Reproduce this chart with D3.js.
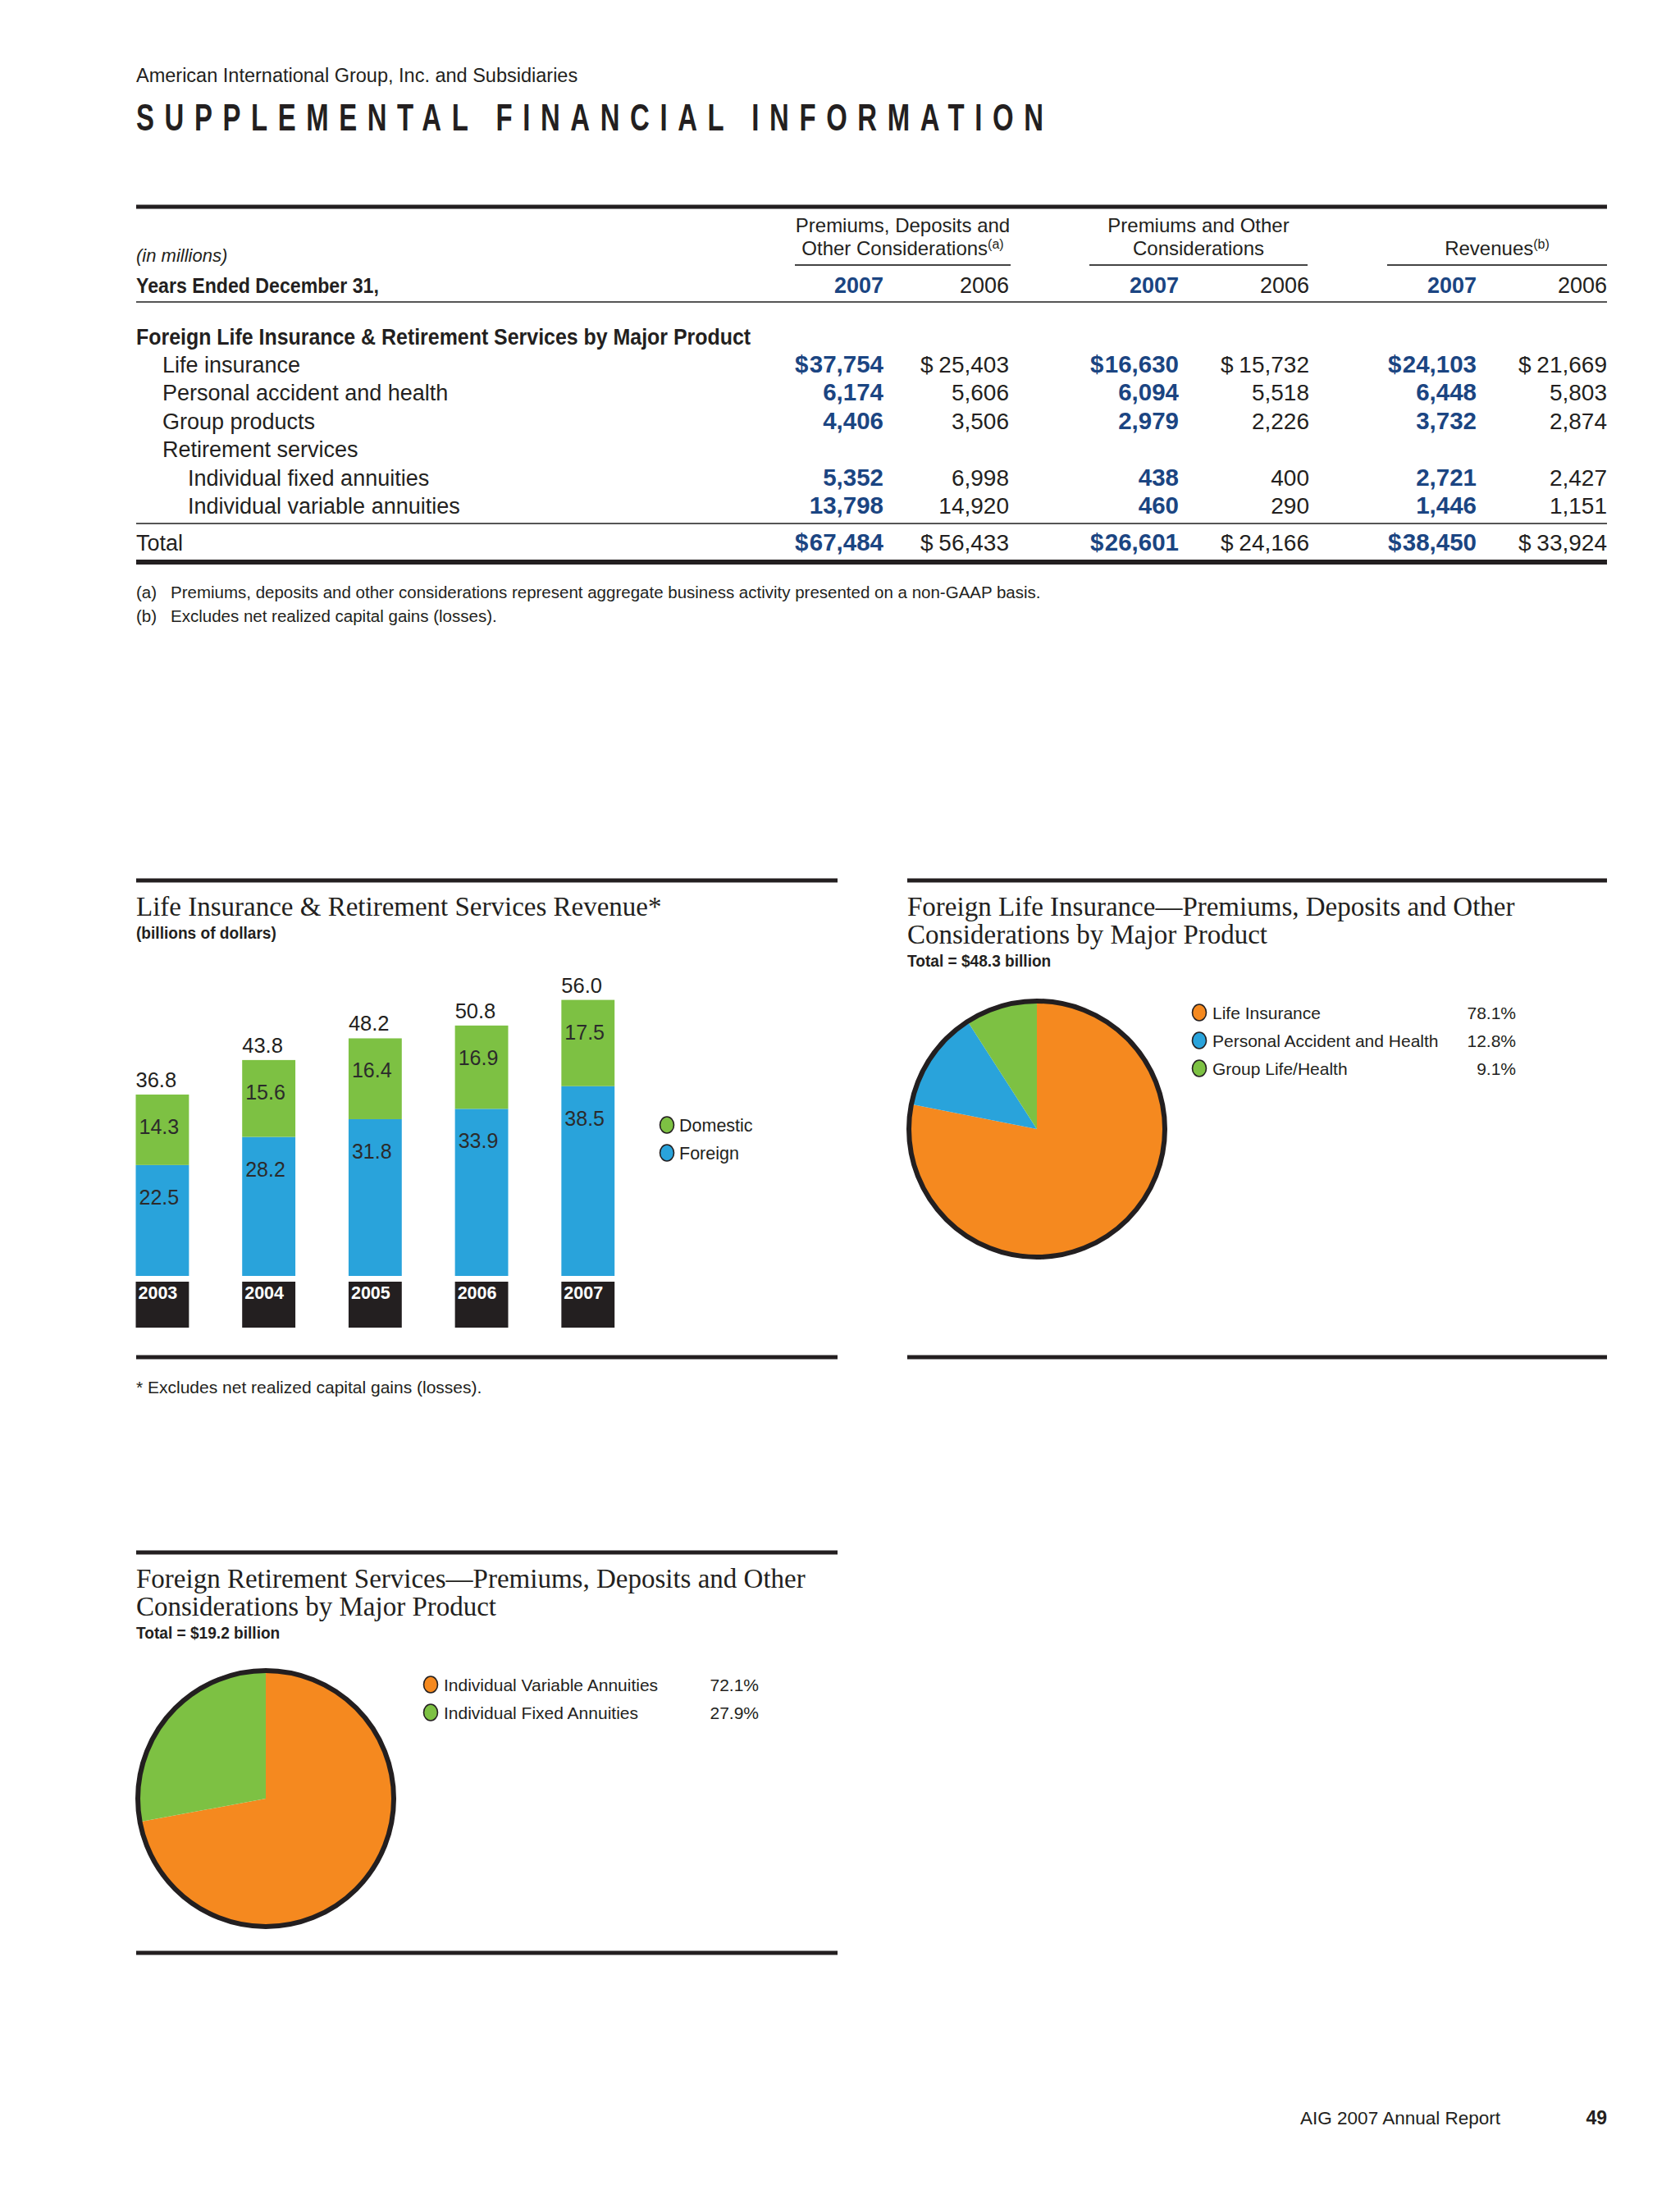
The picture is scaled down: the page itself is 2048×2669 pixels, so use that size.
<!DOCTYPE html>
<html>
<head>
<meta charset="utf-8">
<script src="https://cdn.jsdelivr.net/npm/d3@7"></script>
<style>
  html, body { margin: 0; padding: 0; background: #fff; }
  svg { display: block; }
  .sans { font-family: "Liberation Sans", Arial, sans-serif; }
  .serif { font-family: "Liberation Serif", "DejaVu Serif", serif; }
</style>
</head>
<body>
<svg id="page" width="2048" height="2669"></svg>
<script>

// ---------- table data
const groupHeaders = [["Premiums, Deposits and", "Other Considerations"], ["Premiums and Other", "Considerations"], ["", "Revenues"]];
const groupNotes = ["(a)", "", "(b)"];
const columnYears = ["2007", "2006", "2007", "2006", "2007", "2006"];
const sectionTitle = "Foreign Life Insurance & Retirement Services by Major Product";
const rowLabels = ["Life insurance", "Personal accident and health", "Group products", "Retirement services", "Individual fixed annuities", "Individual variable annuities"];
const rowLevels = [1, 1, 1, 1, 2, 2];
const pdoc2007 = [37754, 6174, 4406, null, 5352, 13798];
const pdoc2006 = [25403, 5606, 3506, null, 6998, 14920];
const poc2007 = [16630, 6094, 2979, null, 438, 460];
const poc2006 = [15732, 5518, 2226, null, 400, 290];
const rev2007 = [24103, 6448, 3732, null, 2721, 1446];
const rev2006 = [21669, 5803, 2874, null, 2427, 1151];
const columnTotals = [67484, 56433, 26601, 24166, 38450, 33924];
const footnotes = [["(a)", "Premiums, deposits and other considerations represent aggregate business activity presented on a non-GAAP basis."],
                   ["(b)", "Excludes net realized capital gains (losses)."]];

// ---------- bar chart data
const years = ["2003", "2004", "2005", "2006", "2007"];
const foreign = [22.5, 28.2, 31.8, 33.9, 38.5];
const domestic = [14.3, 15.6, 16.4, 16.9, 17.5];
const totals = [36.8, 43.8, 48.2, 50.8, 56.0];
const barSeries = ["Domestic", "Foreign"];

// ---------- pie data
const lifeProducts = ["Life Insurance", "Personal Accident and Health", "Group Life/Health"];
const lifeShares = [78.1, 12.8, 9.1];
const retireProducts = ["Individual Variable Annuities", "Individual Fixed Annuities"];
const retireShares = [72.1, 27.9];

const INK = "#231f20";
const BLUE_TXT = "#1b4582";
const GREEN = "#7dc143";
const BLUE = "#29a3db";
const ORANGE = "#f5891f";

const svg = d3.select("#page");
svg.append("rect").attr("width", 2048).attr("height", 2669).attr("fill", "#fff");

const L = 166, R = 1959;

function rule(x1, x2, y, w, color) {
    svg.append("line").attr("x1", x1).attr("x2", x2).attr("y1", y).attr("y2", y)
       .attr("stroke", color || INK).attr("stroke-width", w);
}

// plain text
function txt(x, y, str, size, opts = {}) {
    return svg.append("text").attr("class", opts.serif ? "serif" : "sans")
       .attr("x", x).attr("y", y)
       .attr("font-size", size)
       .attr("font-weight", opts.bold ? "bold" : "normal")
       .attr("font-style", opts.italic ? "italic" : "normal")
       .attr("text-anchor", opts.anchor || "start")
       .attr("fill", opts.fill || INK)
       .text(str);
}

// bold condensed text (squeezed horizontally)
function cond(x, y, str, size, sx, opts = {}) {
    const g = svg.append("g").attr("transform", `translate(${x},${y}) scale(${sx},1)`);
    return g.append("text").attr("class", "sans").attr("x", 0).attr("y", 0)
       .attr("font-size", size).attr("font-weight", "bold")
       .attr("text-anchor", opts.anchor || "start")
       .attr("fill", opts.fill || INK).text(str);
}

// ---------- page header
txt(L, 100, "American International Group, Inc. and Subsidiaries", 23.5);

cond(L, 159, "SUPPLEMENTAL FINANCIAL INFORMATION", 47, 0.7)
   .attr("textLength", 1106 / 0.7).attr("lengthAdjust", "spacing");

// ---------- table
rule(L, R, 252, 5);

const colRight = [1077, 1230, 1437, 1596, 1800, 1959];
const groupSpan = [[969, 1232], [1328, 1594], [1691, 1959]];

groupHeaders.forEach((lines, i) => {
    const cx = (groupSpan[i][0] + groupSpan[i][1]) / 2;
    lines.forEach((t, j) => {
        if (!t) return;
        const el = txt(cx, 283 + j * 28, t, 24, { anchor: "middle" });
        if (j === 1 && groupNotes[i]) {
            el.append("tspan").attr("font-size", 16).attr("dy", -8).text(groupNotes[i]);
        }
    });
    rule(groupSpan[i][0], groupSpan[i][1], 323, 2, "#444");
});

txt(L, 319, "(in millions)", 22, { italic: true });
cond(L, 357, "Years Ended December 31,", 26, 0.89);

columnYears.forEach((yr, i) => {
    const bold = i % 2 === 0;
    txt(colRight[i], 357, yr, 27, { anchor: "end", bold: bold, fill: bold ? BLUE_TXT : INK });
});
rule(L, R, 368, 2, "#555");

cond(L, 420, sectionTitle, 28, 0.89);

const rowY = d3.scaleLinear().domain([0, rowLabels.length - 1]).range([454, 626]);
const indent = d3.scaleOrdinal().domain([1, 2]).range([198, 229]);
const fmt = d3.format(",");

rowLabels.forEach((lab, r) => txt(indent(rowLevels[r]), rowY(r), lab, 27));

const tableColumns = [pdoc2007, pdoc2006, poc2007, poc2006, rev2007, rev2006];

function cell(colIdx, y, v, dollar) {
    const bold = colIdx % 2 === 0;
    const o = { bold: bold, fill: bold ? BLUE_TXT : INK };
    txt(colRight[colIdx], y, fmt(v), bold ? 29.5 : 28, Object.assign({ anchor: "end" }, o));
    if (dollar) txt(colRight[colIdx] - 108, y, "$", bold ? 29.5 : 28, o);
}

tableColumns.forEach((col, c) => {
    col.forEach((v, r) => {
        if (v == null) return;
        cell(c, rowY(r), v, r === 0);
    });
    cell(c, 671, columnTotals[c], true);
});

rule(L, R, 638, 2, "#555");
txt(L, 671, "Total", 27);
rule(L, R, 685, 6);

footnotes.forEach((f, i) => {
    const y = 729 + i * 29;
    txt(L, y, f[0], 20.5);
    txt(208, y, f[1], 20.5);
});

// ---------- panel helpers
function panelTitle(x, y, lines, sub) {
    lines.forEach((t, i) => txt(x, y + i * 34, t, 33, { serif: true }));
    cond(x, y + (lines.length - 1) * 34 + 28, sub, 21, 0.91);
}

function legendDot(x, y, color) {
    svg.append("ellipse").attr("cx", x).attr("cy", y).attr("rx", 8.5).attr("ry", 10)
       .attr("fill", color).attr("stroke", INK).attr("stroke-width", 1.6);
}

// ---------- bar chart
rule(L, 1021, 1073, 5);
panelTitle(L, 1116, ["Life Insurance & Retirement Services Revenue*"], "(billions of dollars)");

const x = d3.scaleBand().domain(years).range([165.5, 749.2]).paddingInner(0.5).paddingOuter(0);
const y = d3.scaleLinear().domain([0, 56]).range([1555, 1218.6]);

const barRows = years.map((yr, i) => ({ year: yr, Foreign: foreign[i], Domestic: domestic[i], total: totals[i] }));
const layers = d3.stack().keys(["Foreign", "Domestic"])(barRows);
const barColor = d3.scaleOrdinal().domain(["Foreign", "Domestic"]).range([BLUE, GREEN]);

const layerG = svg.append("g").selectAll("g").data(layers).join("g")
    .attr("fill", d => barColor(d.key));

layerG.selectAll("rect").data(d => d).join("rect")
    .attr("x", d => x(d.data.year))
    .attr("y", d => y(d[1]))
    .attr("width", x.bandwidth())
    .attr("height", d => y(d[0]) - y(d[1]));

layerG.selectAll("text").data(d => d).join("text")
    .attr("class", "sans")
    .attr("x", d => x(d.data.year) + 4)
    .attr("y", d => y(d[1]) + 48)
    .attr("font-size", 25).attr("fill", "#2b2b2b")
    .text(d => d3.format(".1f")(d[1] - d[0]));

svg.append("g").selectAll("text").data(barRows).join("text")
    .attr("class", "sans")
    .attr("x", d => x(d.year))
    .attr("y", d => y(d.total) - 9)
    .attr("font-size", 25.5).attr("fill", INK)
    .text(d => d3.format(".1f")(d.total));

// year boxes under the bars
const yearG = svg.append("g").selectAll("g").data(years).join("g");
yearG.append("rect").attr("x", d => x(d)).attr("y", 1562)
    .attr("width", x.bandwidth()).attr("height", 56).attr("fill", INK);
yearG.append("text").attr("class", "sans").attr("x", d => x(d) + 3).attr("y", 1583)
    .attr("font-size", 21.5).attr("font-weight", "bold").attr("fill", "#fff").text(d => d);

barSeries.forEach((s, i) => {
    const ly = 1371 + i * 34;
    legendDot(813, ly, barColor(s));
    txt(828, ly + 8, s, 21.5);
});

rule(L, 1021, 1654, 5);
txt(L, 1698, "* Excludes net realized capital gains (losses).", 21);

// ---------- pies
function drawPie(cx, cy, r, labels, shares, colors, legX, legY, pctRight) {
    const pie = d3.pie().sort(null).value(d => d);
    const arc = d3.arc().innerRadius(0).outerRadius(r);
    const g = svg.append("g").attr("transform", `translate(${cx},${cy})`);
    g.selectAll("path").data(pie(shares)).join("path")
        .attr("d", arc).attr("fill", (d, i) => colors[i]);
    g.append("circle").attr("r", r).attr("fill", "none").attr("stroke", INK).attr("stroke-width", 6);

    labels.forEach((lab, i) => {
        const ly = legY + i * 34;
        legendDot(legX, ly, colors[i]);
        txt(legX + 16, ly + 8, lab, 21);
        txt(pctRight, ly + 8, d3.format(".1f")(shares[i]) + "%", 21, { anchor: "end" });
    });
}

rule(1106, R, 1073, 5);
panelTitle(1106, 1116, ["Foreign Life Insurance\u2014Premiums, Deposits and Other", "Considerations by Major Product"], "Total = $48.3 billion");
drawPie(1264, 1376, 156, lifeProducts, lifeShares, [ORANGE, BLUE, GREEN], 1462, 1234, 1848);
rule(1106, R, 1654, 5);

rule(L, 1021, 1892, 5);
panelTitle(L, 1935, ["Foreign Retirement Services\u2014Premiums, Deposits and Other", "Considerations by Major Product"], "Total = $19.2 billion");
drawPie(324, 2192, 156, retireProducts, retireShares, [ORANGE, GREEN], 525, 2053, 925);
rule(L, 1021, 2380, 5);

// ---------- page footer
txt(1829, 2589, "AIG 2007 Annual Report", 22.5, { anchor: "end" });
txt(R, 2589, "49", 23, { anchor: "end", bold: true });

</script>
</body>
</html>
